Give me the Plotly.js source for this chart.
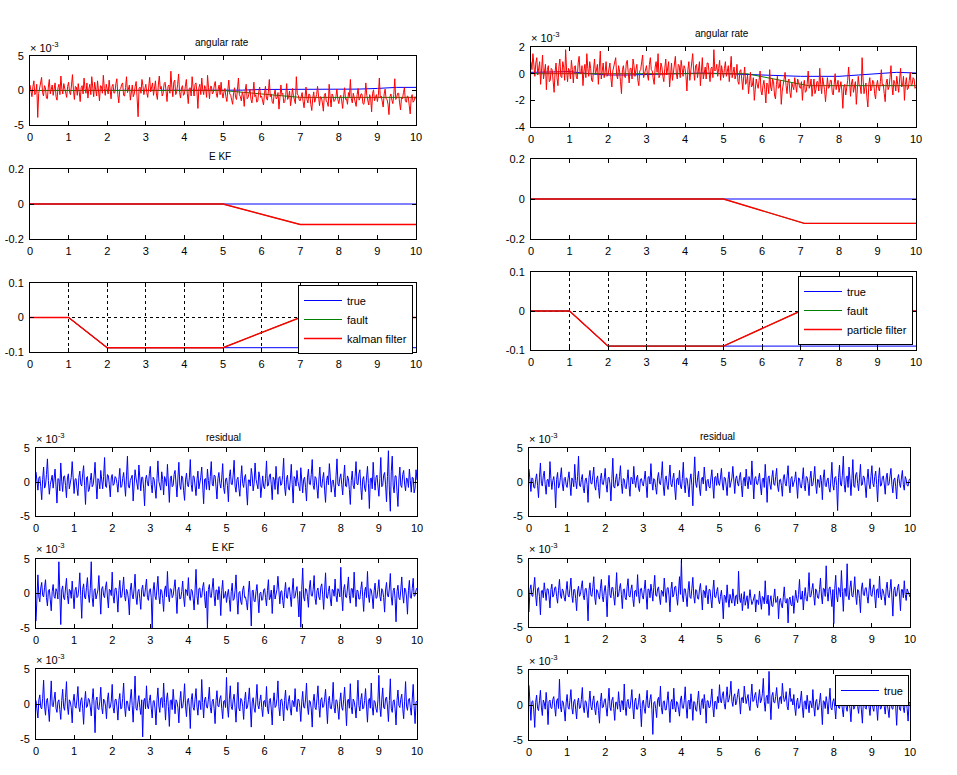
<!DOCTYPE html>
<html>
<head>
<meta charset="utf-8">
<script src="https://cdn.plot.ly/plotly-3.0.1.min.js"></script>
<style>html,body{margin:0;padding:0;background:#fff;}#chart{width:957px;height:775px;}</style>
</head>
<body>
<div id="chart"></div>
<script>
// ---------------- DATA (noise panels in units of 1e-3) ----------------
const xTicks = [0,1,2,3,4,5,6,7,8,9,10];
const xTickText = ['0','1','2','3','4','5','6','7','8','9','10'];

// sampling grid of the noisy signals (0 .. 10 s, 40 samples per second)
const tSamples = [];
for (let i = 0; i <= 400; i++) tSamples.push(i / 40);

// coarse grid for the slowly varying "true" angular rate
const tCoarse = [0,0.5,1,1.5,2,2.5,3,3.5,4,4.5,5,5.5,6,6.5,7,7.5,8,8.5,9,9.5,10];

// --- top-left: angular rate (x1e-3)
const rateTrueL = [0,0,0,0,0,0,0,0,0,0,0,0.05,0.15,0.15,0.1,0.15,0.2,0.2,0.3,0.45,0.45];
const rateFaultTimeL = [0,5,7,10];
const rateFaultL = [0,0,-1.0,-1.0];
const rateMeasL = [
 0.8,-0.2,-0.9,0.5,1.4,-0.6,-0.3,0.9,-3.9,-0.4,0.6,1.2,1.9,-0.3,-0.8,0.7,0.4,-1.1,-1.2,0.5,1.6,-0.5,0.2,0.8,-0.7,0.3,1.1,-0.9,-1.4,0.4,0.9,-0.6,2.1,0.2,-0.5,1.0,0.3,-0.8,-1.0,0.6,
 1.2,-0.3,-0.6,0.8,2.3,0.1,-1.3,0.6,0.5,-0.7,1.0,-0.2,-1.6,0.4,0.7,-0.5,1.8,0.3,-0.4,1.1,-1.1,0.2,0.9,-0.6,2.0,0.5,-0.9,1.2,0.2,-0.8,1.4,-0.1,-1.5,0.7,0.6,-0.4,2.2,0.3,-0.7,0.9,
 0.4,-0.5,1.5,0.2,-1.2,0.6,0.9,-0.4,-0.3,1.0,1.7,-0.6,-1.8,0.1,0.3,0.9,1.1,-0.7,-0.8,0.4,2.0,-0.3,0.1,0.8,-1.4,0.2,0.8,-0.9,-0.5,0.6,1.3,-1.1,-3.8,0.3,0.5,-0.4,1.6,0.7,-0.6,0.2,
 0.9,-0.3,-1.0,0.5,1.9,-0.2,0.3,1.1,-0.7,0.4,1.4,-0.5,-1.3,0.8,2.1,0.2,0.6,-0.8,-0.4,1.0,1.2,-0.1,-1.6,0.6,0.8,-0.4,2.8,0.5,-0.9,1.2,1.5,-0.6,-0.2,0.9,2.4,-0.3,-1.1,0.4,0.7,-0.7,
 -0.5,0.6,1.6,-0.4,-1.9,0.3,0.4,-0.8,2.0,0.5,-0.8,0.9,1.1,-0.2,-2.6,0.4,0.9,-0.6,1.8,0.1,-0.6,0.7,0.3,-1.0,2.2,0.4,-1.2,0.6,0.6,-0.5,-0.3,0.8,1.3,-0.4,-1.0,0.2,0.8,-0.6,1.2,-0.3,
 -1.1,-0.2,0.3,-0.9,-1.6,0.1,1.5,-0.5,-0.7,-1.4,-2.0,-0.3,0.4,-1.0,-1.3,0.2,1.8,-0.6,-0.9,-1.5,-0.2,-0.8,-2.3,0.0,0.9,-1.2,-1.0,-0.4,0.2,-1.3,-1.8,-0.5,1.2,-0.9,-0.6,-1.7,-1.5,-0.2,0.5,-1.0,
 -0.8,-1.5,-2.1,-0.4,0.6,-1.1,-1.4,-0.2,1.6,-0.9,-0.5,-1.7,-1.9,-0.6,0.1,-1.2,-1.1,-0.3,-2.7,-1.0,0.8,-0.6,-0.4,-1.8,-1.6,-0.7,1.0,-1.3,-0.9,-0.1,-2.2,-1.1,0.3,-0.8,-1.2,-1.9,2.0,-0.5,-0.7,-1.4,
 -1.5,-0.8,-0.3,-1.6,-2.5,-1.0,0.5,-1.3,-1.8,-0.5,-0.6,-2.0,-2.9,-1.1,-0.2,-1.7,-1.3,-0.6,0.6,-1.4,-2.2,-0.9,-1.0,-1.8,-3.0,-0.7,-0.4,-1.5,-1.7,-2.3,0.9,-1.0,-2.4,-0.5,-0.8,-1.6,-1.4,-0.9,0.2,-1.3,
 -1.9,-1.0,-0.7,-1.5,-2.6,-0.8,0.4,-1.3,-1.2,-2.0,-0.3,-0.9,1.6,-1.2,-1.8,-0.4,-0.9,-1.7,-2.3,-0.6,0.3,-1.4,-1.1,-0.5,-0.5,-1.9,-2.0,-1.0,1.1,-0.7,-1.4,-2.1,-0.6,-1.1,-3.1,-0.4,0.1,-1.5,-1.0,-0.6,
 -1.6,-0.7,1.8,-1.1,-0.8,-1.6,-2.4,-0.5,0.2,-1.2,-1.3,-2.0,-3.5,-0.9,-0.5,-1.4,-1.9,-0.6,1.7,-1.3,-1.0,-0.4,-0.4,-1.8,-2.8,-1.0,-1.2,-0.3,0.4,-1.5,-1.7,-0.8,-0.9,-2.2,-3.4,-1.1,-0.6,-1.7,-1.5,-0.9,
 -1.2];

// --- top-right: angular rate (x1e-3)
const rateTrueR = [0.1,0.1,0.15,0.0,-0.1,-0.1,-0.05,0.0,0.05,0.05,0.0,-0.05,-0.15,-0.2,-0.2,-0.2,-0.2,-0.1,0.0,0.1,0.05];
const rateFaultTimeR = [0,5.6,7.2,10];
const rateFaultR = [0,0,-0.9,-0.9];
const rateMeasR = [
 0.9,0.3,1.5,0.6,-0.2,0.8,1.2,-0.1,0.4,0.9,-0.8,0.2,1.4,-0.4,0.1,0.7,-1.2,0.3,0.6,-0.6,-0.5,0.4,0.3,-0.8,-1.4,0.1,0.8,-0.3,-0.9,0.5,1.1,-0.2,-0.3,0.9,0.5,-0.5,1.8,0.2,-0.6,0.4,
 0.2,-0.4,1.0,0.3,-0.7,0.5,0.6,-0.2,-0.4,0.8,1.3,0.1,0.0,0.6,-0.9,0.2,0.7,-0.3,1.5,0.4,-0.2,0.9,0.4,-0.5,-0.6,0.3,1.1,-0.1,0.3,0.7,-0.8,0.2,1.7,-0.4,0.5,0.8,-0.3,0.1,0.9,-0.2,
 -0.1,0.5,0.8,-0.3,-1.0,0.2,0.5,0.9,1.2,-0.1,-0.4,0.6,0.2,-0.6,-1.5,0.3,0.6,-0.2,-0.3,0.8,1.0,0.1,-0.7,0.4,0.4,-0.4,1.1,0.6,-0.2,0.3,0.7,-0.5,-0.9,0.2,0.3,0.9,1.4,-0.3,0.0,0.5,
 0.6,-0.1,-0.5,0.7,1.2,0.3,0.2,-0.4,-0.8,0.5,0.9,0.1,1.5,-0.3,-0.1,0.8,0.5,-0.2,-0.6,0.4,1.1,-0.1,0.3,0.9,-1.0,0.2,0.8,-0.5,0.1,0.6,1.3,0.0,-0.4,0.7,0.6,-0.3,1.0,0.4,-0.2,0.6,
 0.4,-0.2,-1.3,0.3,0.9,-0.5,0.1,0.7,1.5,0.2,-0.5,0.6,0.7,-0.3,0.2,0.9,-0.9,0.1,1.2,-0.4,0.0,0.5,-0.4,0.8,0.8,-0.1,-0.6,0.4,0.5,-0.3,1.8,0.2,0.3,0.7,-0.2,0.4,1.0,-0.5,0.6,0.1,
 -0.3,0.4,0.9,-0.2,0.2,0.6,-0.6,0.1,1.3,-0.3,0.1,0.5,-0.4,-0.1,0.7,-0.6,-0.8,0.2,0.3,-0.5,-1.2,-0.2,0.5,-0.8,-0.6,-0.1,-1.5,-0.7,0.1,-1.0,-0.9,-0.3,-2.0,-1.2,-0.4,-0.8,-1.1,-0.5,0.2,-1.3,
 -1.6,-0.9,-0.5,-1.2,-2.2,-0.7,-0.8,-1.5,0.3,-1.0,-1.3,-0.4,-0.6,-1.6,-1.9,-0.8,-0.2,-1.1,-1.0,-0.5,-2.3,-1.3,-0.7,-0.2,0.1,-0.9,-1.5,-0.6,-0.4,-1.4,-1.8,-0.7,-0.9,-1.2,-0.3,-0.8,-1.4,-0.4,-0.6,-1.0,
 -1.1,-0.6,-2.0,-0.9,-0.5,-1.4,-1.3,-0.7,0.2,-1.1,-0.9,-0.4,-1.7,-1.0,-0.4,-1.5,-1.2,-0.6,-0.6,-1.3,0.4,-0.8,-1.5,-0.3,-0.8,-1.2,-2.1,-0.7,-0.3,-1.1,-1.0,-0.5,-0.5,-1.4,-1.6,-0.8,0.0,-1.2,-0.9,-0.5,
 -1.4,-0.8,-0.6,-1.3,-2.6,-1.0,-0.8,-1.6,-1.2,-0.5,0.5,-1.1,-1.7,-0.7,-0.4,-1.4,-1.0,-0.6,-2.3,-1.2,-0.2,-0.9,-0.9,-1.5,1.2,-0.4,-1.5,-1.0,-0.7,-1.8,-2.5,-0.8,-0.3,-1.3,-1.1,-0.5,-0.6,-1.5,-1.9,-0.9,
 -0.5,-1.1,-1.3,-0.6,0.3,-0.9,-0.8,-1.5,-2.1,-0.7,-0.4,-1.2,-1.0,-0.3,0.6,-0.9,-1.6,-0.5,-0.7,-1.3,-0.2,-0.8,-1.4,-0.4,0.4,-1.0,-0.9,-0.2,-2.0,-0.8,-0.3,-1.2,-1.1,-0.5,0.1,-0.9,-0.8,-0.3,-0.4,-1.1,
 -1.0];

// --- EKF / particle filter bias estimates (second row)
const biasTrueTime = [0,10];
const biasTrue = [0,0];
const ekfTime = [0,5,7,10];
const ekfEst = [0,0,-0.117,-0.117];
const pfTime = [0,5,7.1,10];
const pfEst = [0,0,-0.122,-0.122];

// --- third row: true / fault / filter
const rowThreeTrueTime = [0,1,2,10];
const rowThreeTrueL = [0,0,-0.0875,-0.0875];
const rowThreeTrueR = [0,0,-0.09,-0.09];
const rowThreeEstTime = [0,1,2,5,7,10];
const kalmanEst = [0,0,-0.0875,-0.0875,0,0];
const particleEst = [0,0,-0.09,-0.09,0,0];

// --- residuals (x1e-3)
const residL1 = [
 1.5,0.3,-1.2,0.6,0.8,-0.7,-2.6,0.4,2.2,-0.9,-0.5,1.1,3.4,0.2,-1.8,-0.4,0.6,1.0,-0.9,0.3,1.9,-0.6,-3.1,0.5,0.4,-1.3,2.8,0.1,-1.4,0.8,0.9,-0.5,-2.3,0.6,1.2,-1.0,-0.3,0.7,3.0,-0.8,
 -1.7,0.4,0.5,-0.9,-2.0,0.7,1.6,-0.3,-0.6,1.2,2.4,-0.5,-3.3,0.6,0.8,-1.4,-1.1,0.2,1.3,-0.7,-0.4,0.9,2.9,-0.2,-2.5,0.5,0.2,-1.0,1.7,0.3,-1.0,0.8,3.6,-0.6,-0.8,1.1,0.9,-0.4,-2.2,0.6,
 1.1,-0.5,-0.3,0.8,0.6,-0.2,-1.5,0.4,2.0,-0.8,-0.7,0.5,1.4,-0.3,-2.1,0.9,3.8,-0.6,-0.9,0.2,0.5,1.0,-2.8,-0.4,1.8,0.6,-0.4,-1.1,2.5,0.3,-1.3,0.7,0.7,-0.9,-3.5,0.4,1.0,-0.2,-0.6,1.2,
 2.3,-0.4,-1.6,0.7,0.4,-0.9,-2.4,0.5,3.1,0.1,-0.8,-1.2,1.5,0.4,-1.9,0.8,0.3,-0.6,2.6,0.2,-3.0,0.5,0.9,-0.7,-0.5,1.1,1.7,-0.3,-2.2,0.6,2.9,-0.5,-1.1,0.9,0.6,-1.3,-2.7,0.3,1.3,-0.4,
 -0.7,0.6,3.3,-0.4,-1.4,0.9,0.8,-0.6,-2.0,0.3,1.6,-1.0,-0.2,0.7,2.2,-0.5,-3.2,0.4,0.5,-1.1,1.9,0.2,-1.2,0.8,3.0,-0.3,-0.6,1.0,0.9,-0.7,-2.5,0.5,1.4,-0.2,-0.9,0.6,2.7,-0.8,-1.7,0.4,
 0.6,-0.5,-2.9,0.8,1.8,-0.3,-0.4,1.0,3.2,-0.6,-1.5,0.4,0.7,-0.9,-2.1,0.5,2.4,-0.2,-0.8,0.7,1.1,-1.2,-3.4,0.3,0.3,-0.6,2.0,0.9,-1.3,-0.2,2.8,0.4,-0.7,-1.0,1.5,0.6,-2.3,0.2,0.9,-0.7,
 -1.0,0.5,3.1,-0.6,-0.5,0.9,1.2,-0.4,-2.6,0.7,0.4,-1.1,2.3,0.2,-1.8,0.6,0.8,-0.5,-0.3,1.0,3.5,-0.7,-2.0,0.4,1.0,-0.9,-1.2,0.3,2.6,-0.4,-3.1,0.8,0.5,-0.6,1.7,0.1,-0.9,-1.3,2.1,0.5,
 -1.6,0.4,0.7,-0.8,-2.8,0.6,1.9,-0.3,-0.4,1.1,3.3,-0.5,-1.1,0.8,0.6,-0.9,-2.4,0.3,2.2,-0.6,-0.8,0.5,1.4,-1.2,-3.0,0.2,0.9,-0.4,2.7,0.7,-1.5,0.1,0.3,-0.8,-2.2,0.9,3.4,-0.3,-0.6,0.6,
 1.2,-0.4,-1.9,0.7,2.5,-0.6,-0.7,0.9,0.5,-1.1,-3.3,0.2,1.6,-0.5,-1.0,0.8,3.0,-0.3,-0.4,1.2,1.8,-0.7,-2.6,0.4,0.8,-0.9,-1.4,0.6,2.3,-0.2,-3.9,0.5,0.6,-1.0,2.9,0.3,-1.2,0.7,1.0,-0.6,
 -2.1,0.5,3.6,-0.7,-0.5,1.0,1.4,-0.4,-2.9,0.8,4.6,-1.2,-4.3,1.5,3.8,-0.6,-1.6,0.9,0.9,-1.4,-3.6,0.3,2.2,-0.5,-0.8,1.1,1.7,-0.3,-1.3,0.6,0.4,-0.8,1.9,0.2,-1.5,0.7,0.6,-1.6,-0.9,1.8,
 0.3];
const residR1 = [
 1.9,-0.3,-1.4,0.6,0.5,-0.8,-0.9,0.4,1.2,-0.5,-2.3,0.7,2.8,-0.2,-0.6,0.9,1.6,-0.4,-1.8,0.3,0.4,-0.7,3.0,0.5,-1.1,0.2,0.8,-0.6,-3.8,0.4,1.4,-0.9,-0.5,0.7,2.1,-0.3,-1.3,0.5,0.7,-0.4,
 -0.8,0.5,1.5,-0.3,-2.0,0.6,0.3,-0.7,2.6,0.2,-1.0,0.8,3.8,-0.5,-0.7,0.4,1.1,-0.9,-1.6,0.3,0.6,-0.4,-3.0,0.7,1.7,-0.2,-0.3,0.9,2.2,-0.6,-1.2,0.4,0.9,-0.8,-2.4,0.5,1.3,-0.3,-0.4,0.6,
 2.0,-0.4,-1.5,0.6,0.7,-0.3,-2.8,0.5,3.5,-0.7,-0.9,0.4,1.2,-0.6,-0.5,0.8,2.4,-0.2,-1.7,0.5,0.4,-0.8,-1.0,0.3,1.8,-0.5,-2.1,0.7,0.6,-0.3,2.3,0.2,-0.8,0.6,1.0,-0.9,-1.4,0.4,0.5,-0.2,
 -0.6,0.4,1.6,-0.5,-2.3,0.7,0.8,-0.3,2.7,0.1,-1.2,0.5,0.3,-0.8,-1.8,0.6,1.4,-0.2,-0.4,0.9,3.0,-0.6,-2.0,0.4,0.9,-0.5,-1.1,0.7,2.5,-0.3,-0.7,0.5,1.3,-0.9,-2.6,0.3,0.6,-0.4,1.7,-0.6,
 -1.0,0.5,2.9,-0.4,-1.6,0.6,0.5,-0.7,-2.2,0.3,1.2,-0.5,-3.5,0.8,3.7,-0.2,-0.8,0.6,1.6,-0.9,-2.0,0.4,0.7,-0.3,2.2,0.5,-1.3,0.2,0.4,-0.7,-0.9,0.6,1.8,-0.4,-2.4,0.7,0.8,-0.5,1.3,-0.2,
 -0.5,0.6,2.0,-0.3,-1.2,0.7,0.6,-0.5,-2.0,0.4,1.5,-0.8,-0.3,0.6,2.3,-0.4,-1.7,0.5,0.9,-0.2,-0.6,0.7,1.4,-0.5,-2.2,0.3,0.7,-0.6,1.9,0.2,-1.0,0.8,0.3,-0.4,3.1,-0.7,-2.5,0.5,0.8,-0.3,
 -0.4,0.5,1.3,-0.6,-1.9,0.4,0.6,-0.8,2.6,0.2,-3.0,0.6,0.9,-0.4,-1.1,0.7,1.7,-0.3,-0.5,0.8,2.0,-0.6,-1.4,0.3,0.4,-0.5,-2.1,0.6,1.1,-0.2,-0.6,0.9,2.4,-0.4,-1.6,0.5,0.8,-0.7,-0.3,0.4,
 1.5,-0.3,-2.4,0.6,0.5,-0.7,-0.9,0.4,2.1,-0.5,-1.3,0.8,0.7,-0.2,-2.0,0.5,1.6,-0.6,-0.4,0.7,2.3,-0.3,-1.7,0.4,0.3,-0.8,1.0,0.2,-2.6,0.6,1.8,-0.5,-0.7,0.3,0.6,-0.9,-1.5,0.5,2.9,-0.4,
 -1.2,0.6,0.8,-0.5,-4.2,0.7,2.5,-0.3,-0.6,1.0,3.8,-0.4,-1.5,0.6,0.9,-0.8,2.2,0.3,-2.0,0.5,3.3,-0.6,-0.8,1.1,1.4,-0.2,-1.3,0.7,2.6,-0.5,-0.4,0.9,0.7,-0.6,-2.3,0.4,1.9,-0.3,-1.0,0.8,
 2.4,-0.2,-0.7,0.8,1.6,-0.4,-2.9,0.5,2.1,-0.6,-0.5,0.7,0.9,-0.3,-1.8,0.6,1.3,-0.5,-0.3,0.9,2.0,-0.4,-1.6,0.3,0.6,-0.7,-2.5,0.5,1.1,-0.2,-0.8,0.6,1.7,-0.4,-1.2,0.8,0.4,-0.5,-0.6,0.3,
 0.5];
const residL2 = [
 -4.0,0.6,2.7,-0.5,-1.2,0.8,1.6,-0.3,-0.5,0.9,2.0,-0.6,-1.8,0.4,0.6,-0.9,-2.5,0.3,1.3,-0.4,-0.7,0.7,0.3,-0.8,4.6,0.2,-4.5,0.5,1.1,-0.6,-0.9,0.8,2.2,-0.3,-1.5,0.6,0.4,-0.7,1.8,-0.2,
 -2.2,0.5,0.9,-0.6,-0.4,0.8,3.0,-0.3,-3.6,0.6,1.4,-0.5,-0.8,0.9,2.3,-0.2,-1.3,0.7,4.6,-0.6,-1.9,0.4,0.7,-0.8,-0.2,0.5,2.6,-0.4,-3.0,0.7,1.0,-0.3,-0.6,0.9,1.7,-0.5,-2.1,0.6,0.5,-0.3,
 3.1,-0.4,-1.4,0.7,0.8,-0.5,-2.7,0.4,1.9,-0.6,-0.5,0.8,2.4,-0.3,-1.1,0.6,0.3,-0.8,-3.1,0.5,1.5,-0.2,-0.8,0.7,2.8,-0.5,-1.6,0.3,0.6,-0.7,-2.3,0.6,1.2,-0.4,-0.4,0.9,2.1,-0.6,-1.0,0.4,
 0.7,-0.6,-5.0,0.5,1.6,-0.4,-0.9,0.8,2.5,-0.3,-1.5,0.6,0.4,-0.7,-2.6,0.5,1.1,-0.5,3.2,-0.2,-1.2,0.7,0.6,-0.6,-0.3,0.9,2.0,-0.4,-2.9,0.5,0.9,-0.8,-0.7,0.3,1.8,-0.5,-1.9,0.6,0.5,-0.3,
 2.3,-0.5,-1.0,0.6,0.4,-0.7,-2.4,0.5,3.5,-0.3,-1.6,0.7,0.8,-0.6,-0.5,0.9,1.6,-0.4,-2.1,0.3,-5.0,0.6,1.3,-0.5,-0.6,0.8,2.2,-0.3,-1.8,0.5,0.5,-0.9,1.0,-0.2,-3.2,0.4,1.9,-0.7,-0.4,0.3,
 -1.3,-0.2,0.6,-0.9,-2.6,0.3,1.5,-1.0,-0.8,0.4,2.7,-0.7,-3.0,0.1,0.3,-1.2,-1.6,0.5,1.1,-0.6,-0.5,-1.3,-2.4,0.2,1.8,-0.8,-4.7,0.4,0.5,-1.1,-1.2,0.3,1.3,-0.7,-2.8,0.0,0.2,-1.0,-0.9,0.5,
 0.7,-0.6,-1.8,0.4,2.0,-0.9,-0.6,0.5,-2.9,-0.2,1.2,-0.8,-0.3,0.6,2.5,-0.5,-1.5,0.3,0.4,-1.0,-2.1,0.2,1.6,-0.6,-0.7,0.8,0.9,-0.4,-1.9,0.5,2.2,-0.7,-0.5,0.4,1.0,-0.9,-3.4,0.3,-4.9,0.6,
 3.7,-0.5,-1.1,0.7,0.6,-0.4,-2.0,0.8,1.9,-0.3,-0.4,0.6,2.6,-0.7,-1.6,0.4,0.8,-0.5,-0.9,0.9,1.4,-0.2,-2.3,0.5,3.0,-0.6,-0.7,0.3,1.1,-0.8,-1.8,0.6,0.5,-0.4,2.1,-0.3,-1.2,0.7,0.3,-0.5,
 3.8,-0.4,-2.5,0.6,1.3,-0.5,-0.6,0.8,2.4,-0.3,-1.4,0.7,0.7,-0.6,3.1,0.2,-1.9,0.5,0.4,-0.8,-0.8,0.6,1.7,-0.4,-2.6,0.3,0.9,-0.6,3.2,-0.2,-1.3,0.7,0.5,-0.5,-2.2,0.4,1.5,-0.7,-0.6,0.6,
 2.0,-0.4,-1.1,0.7,0.4,-0.6,-2.7,0.5,1.6,-0.3,-0.5,0.8,2.9,-0.5,-1.7,0.4,0.8,-0.7,-4.1,0.3,1.2,-0.6,-0.9,0.5,2.4,-0.2,-1.4,0.8,0.6,-0.5,-3.0,0.4,1.9,-0.6,-0.7,0.7,2.2,-0.4,-0.3,0.5,
 0.8];
const residR2 = [
 -2.8,0.5,1.2,-0.4,-0.5,0.7,2.3,-0.3,-1.9,0.6,0.8,-0.5,-3.2,0.3,0.4,-0.7,1.5,0.2,-1.1,0.6,0.6,-0.4,-2.2,0.5,1.3,-0.6,-0.3,0.8,0.9,-0.5,-1.5,0.4,2.0,-0.3,-0.8,0.6,0.3,-0.7,-1.2,0.4,
 1.7,-0.3,-0.6,0.7,2.2,-0.4,-1.4,0.5,0.5,-0.8,-2.6,0.3,1.0,-0.5,-0.2,0.9,1.8,-0.4,-1.0,0.6,0.7,-0.7,-4.1,0.4,1.5,-0.3,-0.5,0.8,2.4,-0.6,-1.7,0.5,0.3,-0.4,-0.9,0.7,2.0,-0.5,-1.3,0.3,
 1.1,-0.4,-3.5,0.6,2.6,-0.3,-0.7,0.8,0.8,-0.5,-1.8,0.4,3.0,-0.6,-0.4,0.7,1.4,-0.2,-2.3,0.5,0.6,-0.7,-1.0,0.9,2.1,-0.4,-0.6,0.5,1.2,-0.8,-2.0,0.3,0.4,-0.5,2.7,-0.2,-1.5,0.6,0.7,-0.4,
 -0.9,0.5,1.9,-0.4,-2.4,0.6,0.5,-0.7,1.3,0.2,-1.2,0.8,2.6,-0.3,-0.5,0.6,0.9,-0.6,-1.7,0.4,0.2,-0.5,2.2,0.3,-1.4,0.7,0.8,-0.4,-2.8,0.5,1.6,-0.6,-0.3,0.9,1.0,-0.5,-1.8,0.3,2.4,-0.2,
 4.8,-0.3,-1.3,0.6,0.6,-0.5,-2.0,0.4,1.7,-0.6,-0.8,0.7,2.3,-0.4,-1.5,0.5,0.4,-0.8,-0.9,0.6,1.4,-0.3,-2.5,0.4,0.3,-0.7,1.1,-0.2,-1.6,0.5,0.5,-0.9,-2.2,0.3,1.9,-0.6,-0.7,0.2,0.8,-1.0,
 -1.6,-0.5,0.4,-1.2,-3.8,-0.3,-0.5,-1.4,1.2,-0.8,-2.1,-0.2,-0.8,-1.5,0.6,-0.9,-1.9,-0.4,-0.3,-1.6,3.2,-0.7,-1.4,-0.1,-2.6,-1.0,0.2,-1.8,-1.0,-0.4,-2.3,-1.1,0.5,-0.8,-1.7,-1.3,-0.6,-0.2,-2.8,-1.0,
 -1.1,-1.7,0.3,-0.9,-2.4,-0.5,-0.7,-1.6,1.8,-1.1,-1.6,-0.3,-3.3,-1.2,-0.4,-1.9,-2.0,-0.7,0.6,-1.4,-1.3,-0.5,-3.8,-1.1,-0.8,-1.8,-2.2,-0.6,0.9,-1.3,-1.5,-0.8,-4.4,-1.0,-0.6,-1.7,-1.9,-0.4,-3.0,-1.2,
 0.4,-0.8,-1.4,-0.2,2.0,-0.9,-0.9,0.3,-2.5,-0.5,0.8,-0.9,-1.2,0.2,3.0,-0.6,-0.5,0.5,1.4,-0.4,-1.8,0.6,0.3,-0.7,-0.8,0.5,2.2,-0.3,-1.6,0.7,0.6,-0.5,4.0,0.2,-1.2,0.6,0.9,-0.4,-2.0,0.5,
 -4.5,0.7,2.6,-0.4,-1.3,0.8,0.5,-0.6,3.3,0.2,-2.7,0.6,0.7,-0.5,4.3,-0.3,-1.0,0.8,1.8,-0.4,-0.6,0.6,2.4,-0.3,-1.7,0.5,0.4,-0.8,-2.9,0.6,1.5,-0.2,-0.4,0.7,0.8,-0.5,-1.5,0.4,2.1,-0.3,
 -0.5,0.6,1.2,-0.4,-2.2,0.5,0.6,-0.7,2.5,-0.2,-1.0,0.6,0.3,-0.5,-1.8,0.7,1.6,-0.3,-0.7,0.5,2.0,-0.6,-3.4,0.4,0.9,-0.5,-0.4,0.8,1.3,-0.3,-2.6,0.5,0.5,-0.7,1.8,-0.2,-1.1,0.6,0.2,-0.4,
 -0.6];
const residL3 = [
 0.5,-0.4,-2.0,0.6,1.3,-0.5,-0.7,0.8,3.4,-0.3,-1.6,0.5,0.8,-0.7,-2.5,0.4,3.3,-0.2,-0.4,0.7,1.7,-0.6,-1.2,0.3,0.6,-0.8,-2.2,0.5,2.1,-0.4,-0.9,0.9,3.2,-0.3,-1.5,0.6,0.3,-0.5,-2.7,0.4,
 1.4,-0.3,-0.6,0.7,2.5,-0.4,-1.1,0.5,0.9,-0.6,-2.9,0.3,1.8,-0.5,-0.3,0.8,0.6,-0.4,-1.7,0.6,2.2,-0.2,-4.1,0.5,1.0,-0.7,-0.8,0.4,2.4,-0.5,-1.4,0.7,0.5,-0.3,-2.1,0.6,1.6,-0.6,-0.5,0.4,
 2.8,-0.5,-1.3,0.6,0.7,-0.4,-2.3,0.5,1.5,-0.7,-0.6,0.8,3.0,-0.3,-1.8,0.4,0.4,-0.6,-1.0,0.7,2.1,-0.2,-2.6,0.5,4.0,-0.6,-0.9,0.3,1.2,-0.5,-1.5,0.6,-4.7,0.4,0.8,-0.7,2.6,-0.3,-0.7,0.5,
 1.3,-0.6,-2.0,0.4,0.5,-0.7,-3.0,0.6,2.3,-0.3,-1.2,0.8,0.9,-0.5,3.0,0.2,-2.3,0.6,1.6,-0.4,-3.2,0.5,0.6,-0.8,2.1,0.3,-1.4,0.6,0.3,-0.5,-2.7,0.4,1.8,-0.6,-0.5,0.7,2.9,-0.3,-1.8,0.5,
 0.8,-0.4,-3.5,0.6,1.5,-0.5,-0.9,0.7,2.2,-0.3,-1.6,0.5,0.4,-0.8,3.5,0.2,-2.0,0.6,1.0,-0.4,-0.6,0.7,2.4,-0.5,-1.3,0.4,0.7,-0.6,-2.8,0.5,1.9,-0.3,-0.4,0.8,1.2,-0.6,-2.1,0.4,0.5,-0.5,
 3.8,-0.3,-1.9,0.7,2.6,-0.4,-0.8,0.6,1.4,-0.5,-2.6,0.4,3.1,-0.6,-1.0,0.8,0.6,-0.3,-2.2,0.5,1.7,-0.7,-0.5,0.6,2.3,-0.4,-3.3,0.3,0.9,-0.6,-1.2,0.7,2.8,-0.2,-0.7,0.5,1.3,-0.5,-1.8,0.4,
 0.5,-0.4,2.5,-0.6,-1.4,0.5,0.8,-0.7,-3.0,0.3,1.6,-0.5,-0.3,0.8,3.3,-0.4,-1.7,0.6,0.7,-0.3,-2.4,0.5,2.0,-0.6,-0.9,0.4,1.2,-0.7,-1.6,0.5,0.4,-0.4,2.2,-0.2,-1.1,0.7,0.6,-0.5,-2.5,0.3,
 1.8,-0.4,-0.6,0.7,3.0,-0.3,-1.5,0.5,0.3,-0.7,-3.3,0.4,1.4,-0.5,-0.8,0.8,2.6,-0.2,-1.9,0.6,0.9,-0.5,-0.4,0.7,2.1,-0.3,-2.8,0.5,1.1,-0.6,-0.7,0.4,3.1,-0.5,-1.3,0.6,0.5,-0.8,-2.2,0.4,
 1.6,-0.5,-0.9,0.6,2.4,-0.3,-3.1,0.5,0.7,-0.6,2.9,-0.4,-1.4,0.7,0.4,-0.5,-2.0,0.4,3.4,-0.2,-1.0,0.6,1.5,-0.7,-0.6,0.5,2.2,-0.3,-2.6,0.4,0.8,-0.6,3.0,-0.4,-1.6,0.5,0.3,-0.7,-1.2,0.6,
 4.1,-0.4,-1.8,0.6,2.3,-0.5,-0.7,0.8,1.0,-0.3,-2.5,0.5,3.6,-0.6,-1.2,0.4,0.6,-0.7,-3.0,0.5,2.0,-0.2,-0.5,0.7,1.4,-0.6,-2.1,0.4,3.2,-0.3,-0.9,0.6,0.8,-0.5,-1.6,0.7,2.8,-0.4,-2.8,0.3,
 0.4];
const residR3 = [
 2.8,-0.4,-2.2,0.5,0.6,-0.7,-3.2,0.4,1.4,-0.5,-0.8,0.6,2.1,-0.3,-1.5,0.7,0.3,-0.6,1.8,0.2,-2.8,0.5,0.7,-0.4,-0.5,0.8,1.2,-0.3,-1.6,0.6,0.9,-0.5,3.7,-0.2,-1.0,0.6,0.4,-0.7,-2.3,0.3,
 1.5,-0.3,-0.6,0.7,2.2,-0.4,-1.3,0.5,0.8,-0.6,-2.0,0.4,1.0,-0.5,-0.4,0.8,2.5,-0.3,-1.1,0.6,0.5,-0.7,-1.8,0.4,2.0,-0.2,-0.7,0.6,1.3,-0.5,-1.4,0.3,0.6,-0.8,-2.6,0.5,1.7,-0.4,-0.3,0.6,
 0.9,-0.4,-1.6,0.5,2.4,-0.3,-0.8,0.7,1.1,-0.5,-2.2,0.4,0.4,-0.6,1.9,0.2,-1.0,0.6,0.6,-0.7,3.0,-0.2,-1.5,0.5,0.8,-0.4,-0.5,0.7,2.2,-0.3,-2.0,0.5,1.0,-0.6,-0.6,0.4,1.6,-0.5,-3.1,0.3,
 0.7,-0.5,-1.2,0.6,2.1,-0.3,-0.4,0.8,1.5,-0.6,-4.2,0.3,0.5,-0.5,-1.8,0.7,1.1,-0.2,2.7,-0.4,-1.3,0.5,0.6,-0.7,-0.7,0.6,1.9,-0.3,-2.5,0.4,0.8,-0.6,2.4,-0.2,-1.0,0.5,0.3,-0.6,-1.6,0.7,
 1.3,-0.4,-0.5,0.6,2.6,-0.3,-1.9,0.5,0.7,-0.6,1.6,0.2,-2.2,0.5,0.4,-0.7,-0.9,0.6,2.0,-0.3,-1.4,0.4,0.9,-0.5,1.5,0.2,-2.6,0.6,0.6,-0.4,-0.3,0.8,2.3,-0.2,-1.7,0.5,0.5,-0.6,1.2,0.3,
 2.9,0.6,0.3,1.4,1.9,0.2,-0.6,1.1,2.6,0.4,0.8,1.6,3.4,0.5,-0.2,1.2,1.6,0.0,0.4,1.5,2.3,0.7,-1.3,1.0,1.1,0.3,2.7,1.3,0.2,0.9,1.5,-0.1,-0.8,1.2,3.0,0.5,0.6,1.4,1.8,0.2,
 -0.4,1.0,2.2,0.3,0.7,1.6,3.8,0.5,-0.9,1.1,1.4,0.2,4.8,0.6,-2.1,1.3,1.8,0.4,0.3,1.2,2.5,0.7,-0.5,1.0,1.2,0.2,3.1,1.4,0.5,0.8,1.9,-0.2,-0.7,1.1,2.4,0.5,0.9,0.0,1.5,-0.3,
 -1.5,0.4,1.0,-0.5,-0.4,0.7,2.0,-0.3,-1.8,0.5,0.6,-0.6,1.4,0.2,-1.1,0.6,0.3,-0.4,2.2,-0.2,-1.6,0.5,0.8,-0.7,-0.6,0.4,1.7,-0.3,-2.8,0.6,0.5,-0.5,1.2,0.3,-1.3,0.6,2.4,-0.4,-0.7,0.5,
 0.9,-0.3,-2.0,0.5,1.5,-0.4,-0.5,0.7,0.7,-0.6,-1.7,0.4,2.1,-0.3,-0.9,0.6,0.4,-0.5,-2.4,0.3,1.3,-0.6,-0.3,0.7,1.8,-0.2,-1.2,0.5,0.6,-0.7,-2.6,0.4,1.0,-0.4,-0.6,0.6,2.3,-0.3,-1.5,0.5,
 0.5,-0.4,-0.9,0.6,1.6,-0.3,-2.2,0.5,0.8,-0.6,-0.4,0.7,2.0,-0.2,-1.3,0.5,0.3,-0.7,-1.8,0.4,1.2,-0.5,-0.6,0.6,2.2,-0.3,-2.9,0.4,0.7,-0.6,-0.8,0.5,1.4,-0.4,-1.1,0.6,0.6,-0.5,-2.3,0.3,
 0.4];

// ---------------- STYLE / LAYOUT ----------------
const W = 957, H = 775;
const BLUE = '#0000ff', GREEN = '#008000', RED = '#ff0000';
const FONT = 'Liberation Sans, Arial, Helvetica, sans-serif';

// panel boxes in pixels [x0, x1, yTop, yBottom]
const boxes = [
  [30, 416, 56, 125],   // 1 L angular rate
  [30, 416, 169, 239],  // 2 L EKF
  [30, 416, 283, 352],  // 3 L kalman
  [531, 916, 47, 127],  // 4 R angular rate
  [531, 916, 159, 239], // 5 R
  [531, 916, 272, 350], // 6 R particle
  [36, 417, 448, 516],  // 7 L residual
  [36, 417, 559, 628],  // 8 L EKF
  [36, 417, 669, 739],  // 9 L
  [529, 910, 448, 516], // 10 R residual
  [529, 910, 559, 627], // 11 R
  [529, 910, 670, 740]  // 12 R
];
const yRanges = [[-5,5],[-0.2,0.2],[-0.1,0.1],[-4,2],[-0.2,0.2],[-0.1,0.1],[-5,5],[-5,5],[-5,5],[-5,5],[-5,5],[-5,5]];
const yTickVals = [[-5,0,5],[-0.2,0,0.2],[-0.1,0,0.1],[-4,-2,0,2],[-0.2,0,0.2],[-0.1,0,0.1],[-5,0,5],[-5,0,5],[-5,0,5],[-5,0,5],[-5,0,5],[-5,0,5]];
const yTickText = [['-5','0','5'],['-0.2','0','0.2'],['-0.1','0','0.1'],['-4','-2','0','2'],['-0.2','0','0.2'],['-0.1','0','0.1'],['-5','0','5'],['-5','0','5'],['-5','0','5'],['-5','0','5'],['-5','0','5'],['-5','0','5']];
const gridPanels = [3, 6];

const layout = {
  width: W, height: H, margin: {l:0, r:0, t:0, b:0},
  paper_bgcolor: '#fff', plot_bgcolor: '#fff',
  font: {family: FONT, size: 11, color: '#000'},
  annotations: [],
  showlegend: true
};
const axBase = {
  showline: true, linecolor: '#000', linewidth: 1, mirror: 'ticks',
  ticks: 'inside', ticklen: 4, tickwidth: 1, tickcolor: '#000',
  zeroline: false, fixedrange: true,
  tickfont: {family: FONT, size: 11, color: '#000'}
};
boxes.forEach((b, i) => {
  const n = i + 1;
  const sfx = n === 1 ? '' : String(n);
  const grid = gridPanels.includes(n);
  layout['xaxis' + sfx] = Object.assign({}, axBase, {
    domain: [b[0] / W, b[1] / W], anchor: 'y' + sfx, range: [0, 10],
    tickmode: 'array', tickvals: xTicks, ticktext: xTickText,
    showgrid: grid, gridcolor: '#000', gridwidth: 1, griddash: '3px,3px', ticklabelstandoff: 2
  });
  layout['yaxis' + sfx] = Object.assign({}, axBase, {
    domain: [1 - b[3] / H, 1 - b[2] / H], anchor: 'x' + sfx, range: yRanges[i],
    tickmode: 'array', tickvals: yTickVals[i], ticktext: yTickText[i],
    showgrid: grid, gridcolor: '#000', gridwidth: 1, griddash: '3px,3px', ticklabelstandoff: 3
  });
});

// titles
function addText(text, xpx, ypx, size, anchor) {
  layout.annotations.push({text, xref:'paper', yref:'paper', x: xpx / W, y: 1 - ypx / H,
    xanchor: anchor || 'center', yanchor: 'middle', showarrow: false,
    font: {family: FONT, size: size, color: '#000'}});
}
addText('angular rate', 222, 43, 10);
addText('angular rate', 722, 34, 10);
addText('E KF', 220, 156, 10);
addText('residual', 223, 437, 10);
addText('residual', 717, 436, 10);
addText('E KF', 223, 547, 10);
// x10^-3 exponent labels
const expo = '\u00d7 10<sup>-3</sup>';
[[28, 47],[529, 37],[34, 438],[34, 548],[34, 659],[527, 438],[527, 548],[527, 660]].forEach(p => addText(expo, p[0], p[1], 11, 'left'));

// legends
const legBase = {xanchor:'left', yanchor:'top', bgcolor:'#fff', bordercolor:'#000', borderwidth:1,
  font:{family: FONT, size: 11, color:'#000'}, tracegroupgap: 0, itemwidth: 38};
layout.legend = Object.assign({}, legBase, {x: 298 / W, y: 1 - 285 / H});
layout.legend2 = Object.assign({}, legBase, {x: 798 / W, y: 1 - 276 / H});
layout.legend3 = Object.assign({}, legBase, {x: 835 / W, y: 1 - 675 / H});

// ---------------- TRACES ----------------
function line(x, y, n, color, width, extra) {
  const sfx = n === 1 ? '' : String(n);
  return Object.assign({type: 'scatter', mode: 'lines', x, y, xaxis: 'x' + sfx, yaxis: 'y' + sfx,
    line: {color, width: width || 1}, showlegend: false, hoverinfo: 'skip'}, extra || {});
}
const NW = 1; // noise line width
const traces = [
  // top-left
  line(tCoarse, rateTrueL, 1, BLUE, 1),
  line(rateFaultTimeL, rateFaultL, 1, GREEN, 1),
  line(tSamples, rateMeasL, 1, RED, NW),
  line(biasTrueTime, biasTrue, 2, BLUE, 1),
  line(ekfTime, ekfEst, 2, GREEN, 0.8),
  line(ekfTime, ekfEst, 2, RED, 1.4),
  line(rowThreeTrueTime, rowThreeTrueL, 3, BLUE, 1, {name:'true', showlegend:true, legend:'legend'}),
  line(rowThreeEstTime, kalmanEst, 3, GREEN, 1, {name:'fault', showlegend:true, legend:'legend'}),
  line(rowThreeEstTime, kalmanEst, 3, RED, 1.4, {name:'kalman filter', showlegend:true, legend:'legend'}),
  // top-right
  line(tCoarse, rateTrueR, 4, BLUE, 1),
  line(rateFaultTimeR, rateFaultR, 4, GREEN, 1),
  line(tSamples, rateMeasR, 4, RED, NW),
  line(biasTrueTime, biasTrue, 5, BLUE, 1),
  line(pfTime, pfEst, 5, GREEN, 0.8),
  line(pfTime, pfEst, 5, RED, 1.4),
  line(rowThreeTrueTime, rowThreeTrueR, 6, BLUE, 1, {name:'true', showlegend:true, legend:'legend2'}),
  line(rowThreeEstTime, particleEst, 6, GREEN, 1, {name:'fault', showlegend:true, legend:'legend2'}),
  line(rowThreeEstTime, particleEst, 6, RED, 1.4, {name:'particle filter', showlegend:true, legend:'legend2'}),
  // residuals
  line(tSamples, residL1, 7, BLUE, NW),
  line(tSamples, residL2, 8, BLUE, NW),
  line(tSamples, residL3, 9, BLUE, NW),
  line(tSamples, residR1, 10, BLUE, NW),
  line(tSamples, residR2, 11, BLUE, NW),
  line(tSamples, residR3, 12, BLUE, NW, {name:'true', showlegend:true, legend:'legend3'})
];

Plotly.newPlot('chart', traces, layout, {displayModeBar: false, staticPlot: true});
</script>
</body>
</html>
